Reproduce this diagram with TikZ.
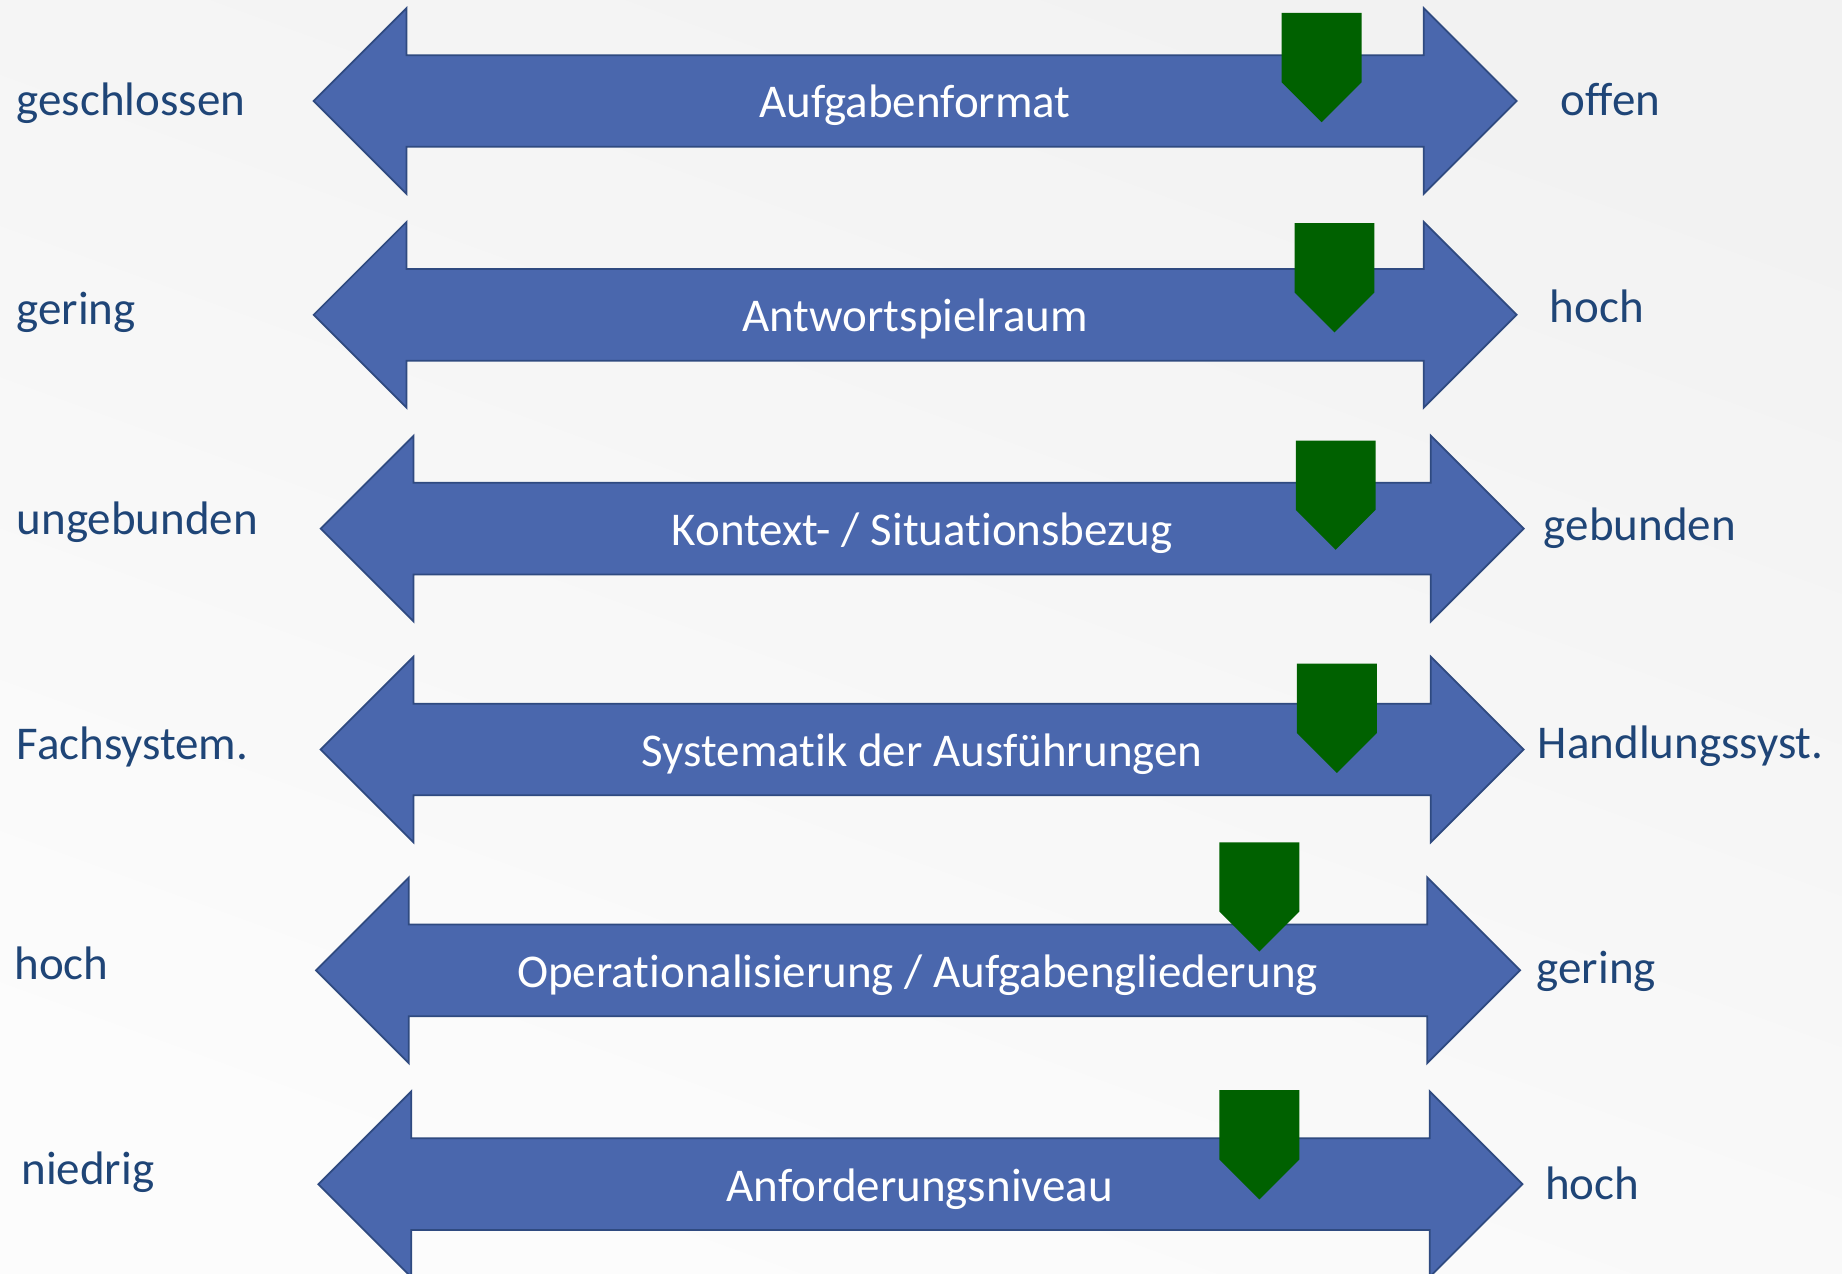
\documentclass[tikz,border=0pt]{standalone}
\usepackage{fontspec}
\setmainfont{Carlito}[Ligatures={NoCommon,NoContextual,NoRare}]
\definecolor{barblue}{HTML}{4A67AD}
\definecolor{baredge}{HTML}{2F4A80}
\definecolor{markgreen}{HTML}{006100}
\definecolor{labelblue}{HTML}{1F4577}
\definecolor{bgtop}{HTML}{F2F2F2}
\definecolor{bgbot}{HTML}{FCFCFC}

% "t" followed by "i" without the ti ligature
\newcommand\tI{t\kern0pt i}

% double-headed bar: centre y, left tip x, right tip x
\newcommand\dblbar[3]{%
  \draw[bar] (#2,#1) -- ({#2+79},{#1-79}) -- ({#2+79},{#1-39})
    -- ({#3-79},{#1-39}) -- ({#3-79},{#1-79}) -- (#3,#1)
    -- ({#3-79},{#1+79}) -- ({#3-79},{#1+39}) -- ({#2+79},{#1+39})
    -- ({#2+79},{#1+79}) -- cycle;}
% green pointer: left x, top y
\newcommand\pointer[2]{%
  \fill[marker] (#1,#2) -- ({#1+68},#2) -- ({#1+68},{#2+59})
    -- ({#1+34},{#2+93}) -- (#1,{#2+59}) -- cycle;}

\begin{document}
\begin{tikzpicture}[x=1pt,y=-1pt,
  bar/.style={fill=barblue,draw=baredge,line width=1.5pt,line join=miter},
  marker/.style={fill=markgreen},
  bartext/.style={text=white,font=\fontsize{40}{48}\selectfont,anchor=mid,inner sep=0pt},
  lefttext/.style={text=labelblue,font=\fontsize{40}{48}\selectfont,anchor=mid west,inner sep=0pt},
  righttext/.style={text=labelblue,font=\fontsize{40}{48}\selectfont,anchor=mid west,inner sep=0pt}]

\useasboundingbox (0,0) rectangle (1568,1084);
\shade[top color=bgtop,bottom color=bgbot,shading angle=-20] (0,0) rectangle (1568,1084);

% scales
\dblbar{86}{267}{1291}
\dblbar{268}{267}{1291}
\dblbar{450}{273}{1297}
\dblbar{638}{273}{1297}
\dblbar{826}{269}{1294}
\dblbar{1008}{271}{1296}

% position pointers
\pointer{1091}{11}
\pointer{1102}{190}
\pointer{1103}{375}
\pointer{1104}{565}
\pointer{1038}{717}
\pointer{1038}{928}

% scale names
\node[bartext] (t1) at (779,98) {Aufgabenformat};
\node[bartext] (t2) at (779,280) {Antwortspielraum};
\node[bartext] (t3) at (785,462) {Kontext- / Situa\tI onsbezug};
\node[bartext] (t4) at (785,650) {Systema\tI k der Ausführungen};
\node[bartext] (t5) at (781,838) {Opera\tI onalisierung / Aufgabengliederung};
\node[bartext] (t6) at (783,1020) {Anforderungsniveau};

% left poles
\node[lefttext] (l1) at (14,96) {geschlossen};
\node[lefttext] (l2) at (14,274) {gering};
\node[lefttext] (l3) at (14,453) {ungebunden};
\node[lefttext] (l4) at (14,644) {Fachsystem.};
\node[lefttext] (l5) at (12,831) {hoch};
\node[lefttext] (l6) at (18,1006) {niedrig};

% right poles
\node[righttext] (r1) at (1328,96) {offen};
\node[righttext] (r2) at (1319,272) {hoch};
\node[righttext] (r3) at (1314,458) {gebunden};
\node[righttext] (r4) at (1309,643) {Handlungssyst.};
\node[righttext] (r5) at (1308,835) {gering};
\node[righttext] (r6) at (1315,1019) {hoch};
\end{tikzpicture}
\end{document}
